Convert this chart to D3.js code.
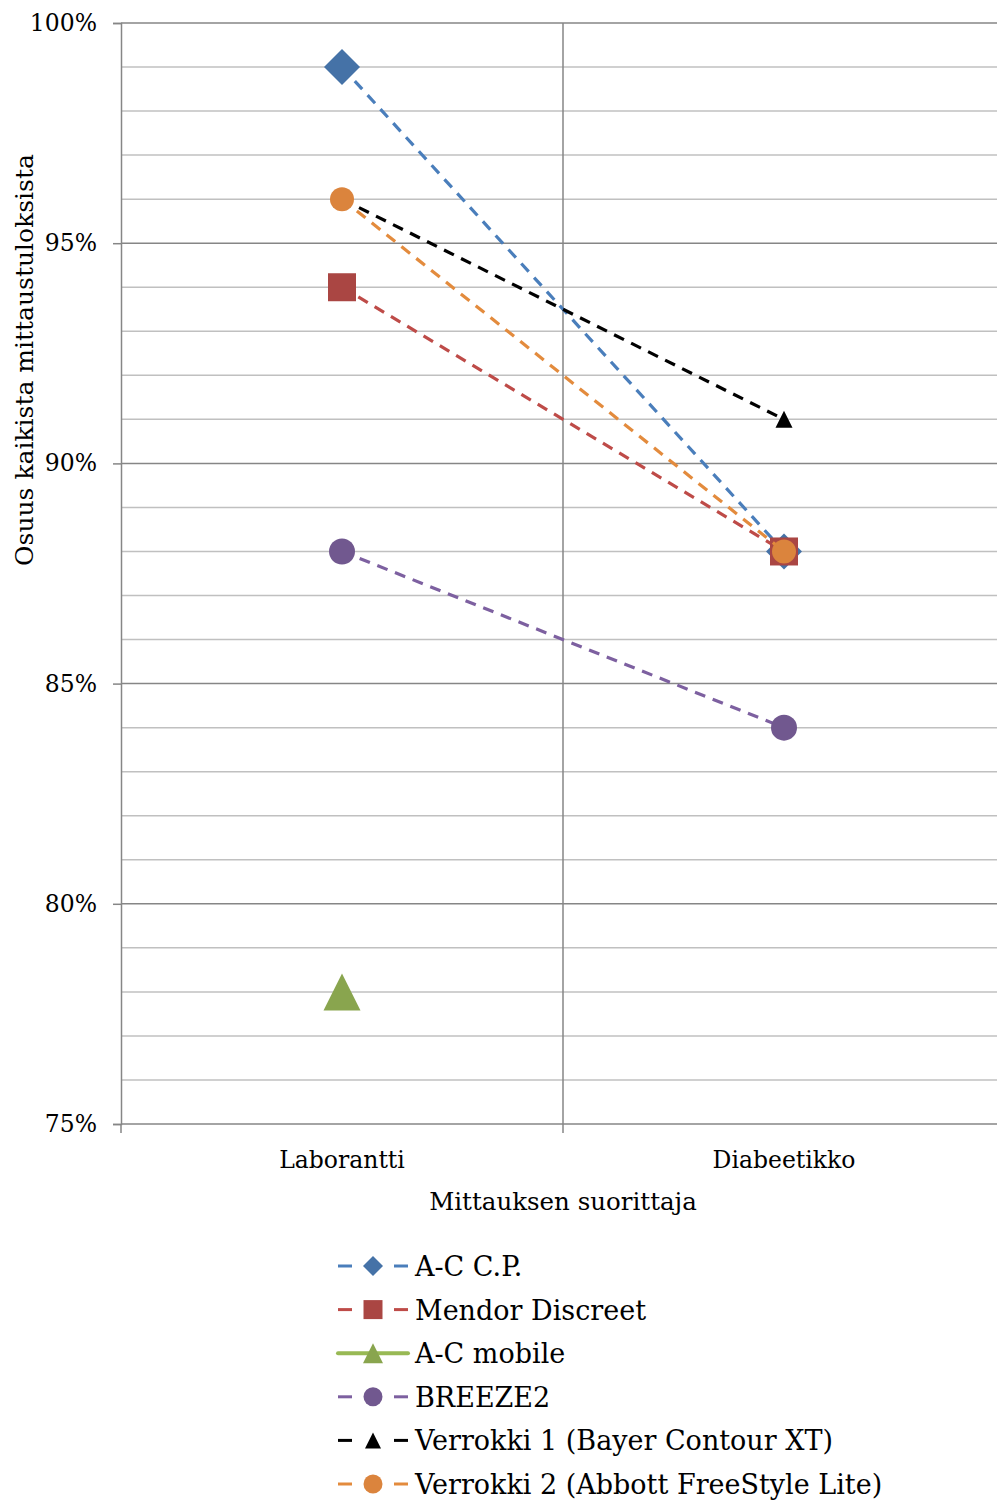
<!DOCTYPE html>
<html>
<head>
<meta charset="utf-8">
<script src="https://cdn.jsdelivr.net/npm/d3@7"></script>
<style>
  body { margin: 0; background: #fff; }
  svg { display: block; font-family: "DejaVu Serif", serif; }
</style>
</head>
<body>
<div id="chart"></div>
<script>
// categories and series (share of all measurement results)
const categories = ["Laborantti", "Diabeetikko"];
const seriesNames = [
  "A-C C.P.",
  "Mendor Discreet",
  "A-C mobile",
  "BREEZE2",
  "Verrokki 1 (Bayer Contour XT)",
  "Verrokki 2 (Abbott FreeStyle Lite)"
];
const acCP = [0.99, 0.88];
const mendor = [0.94, 0.88];
const acMobile = [0.78, null];
const breeze2 = [0.88, 0.84];
const verrokki1 = [0.96, 0.91];
const verrokki2 = [0.96, 0.88];
const yTicks = [0.75, 0.80, 0.85, 0.90, 0.95, 1.00];

const seriesValues = [acCP, mendor, acMobile, breeze2, verrokki1, verrokki2];

// styling per series
const styles = [
  { line: "#4a7ebb", fill: "#4572a7", shape: "diamond", size: 36, leg: 20, dashed: true },
  { line: "#be4b48", fill: "#aa4643", shape: "square", size: 28, leg: 19, dashed: true },
  { line: "#98b954", fill: "#89a54e", shape: "triangle", size: 37, leg: 20, dashed: false },
  { line: "#7d60a0", fill: "#71588f", shape: "circle", size: 26, leg: 19, dashed: true },
  { line: "#000000", fill: "#000000", shape: "triangle", size: 17, leg: 16, dashed: true },
  { line: "#e38b3d", fill: "#db843d", shape: "circle", size: 24, leg: 19, dashed: true }
];

const series = seriesNames.map((name, i) => ({
  name,
  values: seriesValues[i].map((v, j) => ({ cat: categories[j], v })),
  ...styles[i]
}));

const W = 997, H = 1502;
const plotLeft = 121, plotTop = 23, plotBottom = 1124;

const svg = d3.select("#chart").append("svg")
  .attr("width", W)
  .attr("height", H);

const x = d3.scaleBand().domain(categories).range([plotLeft, plotLeft + 884]).padding(0);
const y = d3.scaleLinear().domain([0.75, 1]).range([plotBottom, plotTop]);

const axisColor = "#868686";
const minorColor = "#c0c0c0";

// minor gridlines (every 1 %)
const minor = d3.range(76, 100).filter(d => d % 5 !== 0).map(d => d / 100);
svg.append("g").selectAll("line")
  .data(minor)
  .join("line")
  .attr("x1", plotLeft).attr("x2", W)
  .attr("y1", d => y(d)).attr("y2", d => y(d))
  .attr("stroke", minorColor)
  .attr("stroke-width", 1.5);

// major gridlines
svg.append("g").selectAll("line")
  .data(yTicks.slice(1))
  .join("line")
  .attr("x1", plotLeft).attr("x2", W)
  .attr("y1", d => y(d)).attr("y2", d => y(d))
  .attr("stroke", axisColor)
  .attr("stroke-width", 1.5);

// vertical gridline between categories
svg.append("line")
  .attr("x1", x(categories[1])).attr("x2", x(categories[1]))
  .attr("y1", plotTop).attr("y2", plotBottom)
  .attr("stroke", axisColor)
  .attr("stroke-width", 1.5);

// y axis
const yAxis = svg.append("g")
  .attr("transform", `translate(${plotLeft},0)`)
  .call(d3.axisLeft(y).tickValues(yTicks).tickSize(8).tickPadding(16).tickFormat(d3.format(".0%")));
yAxis.select(".domain").attr("stroke", axisColor).attr("stroke-width", 1.5);
yAxis.selectAll(".tick line").attr("stroke", axisColor).attr("stroke-width", 1.5);
yAxis.selectAll(".tick text")
  .attr("font-family", "DejaVu Serif, serif")
  .attr("font-size", 23.5)
  .attr("fill", "#000");

// x axis line + ticks at band edges
svg.append("line")
  .attr("x1", plotLeft).attr("x2", W)
  .attr("y1", plotBottom).attr("y2", plotBottom)
  .attr("stroke", axisColor)
  .attr("stroke-width", 1.5);
const edges = categories.map(c => x(c)).concat([x(categories[1]) + x.bandwidth()]);
svg.append("g").selectAll("line")
  .data(edges)
  .join("line")
  .attr("x1", d => d).attr("x2", d => d)
  .attr("y1", plotBottom).attr("y2", plotBottom + 9)
  .attr("stroke", axisColor)
  .attr("stroke-width", 1.5);

svg.append("g").selectAll("text")
  .data(categories)
  .join("text")
  .attr("x", d => x(d) + x.bandwidth() / 2)
  .attr("y", 1168)
  .attr("text-anchor", "middle")
  .attr("font-size", 23.5)
  .text(d => d);

// axis titles
svg.append("text")
  .attr("x", x(categories[1]))
  .attr("y", 1210)
  .attr("text-anchor", "middle")
  .attr("font-size", 24.5)
  .text("Mittauksen suorittaja");

svg.append("text")
  .attr("transform", "translate(33,360) rotate(-90)")
  .attr("text-anchor", "middle")
  .attr("font-size", 25)
  .text("Osuus kaikista mittaustuloksista");

// marker path builder
function markerPath(shape, s) {
  const h = s / 2;
  if (shape === "diamond") return `M0,${-h}L${h},0L0,${h}L${-h},0Z`;
  if (shape === "square") return `M${-h},${-h}H${h}V${h}H${-h}Z`;
  if (shape === "triangle") return `M0,${-h}L${h},${h}L${-h},${h}Z`;
  return d3.symbol(d3.symbolCircle, Math.PI * h * h)();
}

const line = d3.line()
  .defined(d => d.v !== null)
  .x(d => x(d.cat) + x.bandwidth() / 2)
  .y(d => y(d.v));

// series: line then markers, in legend order
series.forEach(s => {
  const g = svg.append("g");
  g.append("path")
    .datum(s.values)
    .attr("d", line)
    .attr("fill", "none")
    .attr("stroke", s.line)
    .attr("stroke-width", 3.2)
    .attr("stroke-dasharray", "11,8");
  g.selectAll("path.m")
    .data(s.values.filter(d => d.v !== null))
    .join("path")
    .attr("class", "m")
    .attr("transform", d => `translate(${x(d.cat) + x.bandwidth() / 2},${y(d.v)})`)
    .attr("d", markerPath(s.shape, s.size))
    .attr("fill", s.fill);
});

// legend
const legend = svg.append("g");
const legY0 = 1266, legStep = 43.6;
series.forEach((s, i) => {
  const gy = legY0 + i * legStep;
  const item = legend.append("g").attr("transform", `translate(0,${gy})`);
  if (s.dashed) {
    item.append("line").attr("x1", 338).attr("x2", 352).attr("y1", 0).attr("y2", 0)
      .attr("stroke", s.line).attr("stroke-width", 3);
    item.append("line").attr("x1", 394).attr("x2", 408).attr("y1", 0).attr("y2", 0)
      .attr("stroke", s.line).attr("stroke-width", 3);
  } else {
    item.append("line").attr("x1", 338).attr("x2", 408).attr("y1", 0).attr("y2", 0)
      .attr("stroke", s.line).attr("stroke-width", 4).attr("stroke-linecap", "round");
  }
  item.append("path")
    .attr("transform", "translate(373,0)")
    .attr("d", markerPath(s.shape, s.leg))
    .attr("fill", s.fill);
  item.append("text")
    .attr("x", 415)
    .attr("y", 10)
    .attr("font-size", 27)
    .text(s.name);
});
</script>
</body>
</html>
